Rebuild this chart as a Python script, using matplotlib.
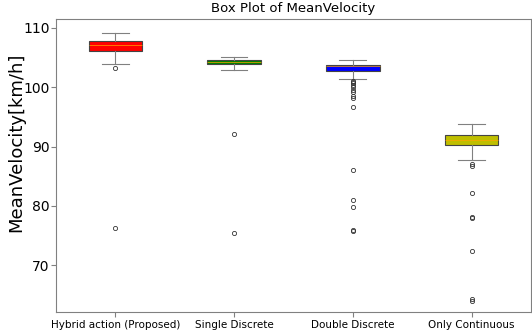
import matplotlib
matplotlib.use('Agg')
import matplotlib.pyplot as plt

labels = ['Hybrid action (Proposed)', 'Single Discrete', 'Double Discrete', 'Only Continuous']
colors = ['r', 'g', 'b', 'y']

# box statistics
whislo = [103.9, 102.9, 101.4, 87.8]
q1 = [106.1, 103.9, 102.7, 90.3]
med = [107.1, 104.3, 103.5, 91.1]
q3 = [107.8, 104.6, 103.8, 92.0]
whishi = [109.1, 105.1, 104.6, 93.8]

fliers_hybrid = [103.2, 76.2]
fliers_single = [92.1, 75.5]
fliers_double = [101.1, 100.9, 100.7, 100.4, 100.1, 99.6, 99.2, 98.6, 98.1,
                 96.6, 86.1, 80.9, 79.8, 75.9, 75.7]
fliers_cont = [87.1, 86.8, 82.2, 78.1, 77.9, 72.4, 64.3, 64.0]
fliers = [fliers_hybrid, fliers_single, fliers_double, fliers_cont]

stats = []
for i in range(len(labels)):
    stats.append({'label': labels[i], 'whislo': whislo[i], 'q1': q1[i],
                  'med': med[i], 'q3': q3[i], 'whishi': whishi[i],
                  'fliers': fliers[i]})

fig, ax = plt.subplots(figsize=(5.32, 3.33), dpi=100)
fig.subplots_adjust(left=0.105, right=0.998, top=0.943, bottom=0.063)

bp = ax.bxp(stats, patch_artist=True, widths=0.45,
            boxprops=dict(edgecolor='#444444', linewidth=0.8),
            whiskerprops=dict(color='gray', linewidth=0.8),
            capprops=dict(color='gray', linewidth=0.8),
            medianprops=dict(color='orange', linewidth=0.5),
            flierprops=dict(marker='o', markersize=3, markerfacecolor='none',
                            markeredgecolor='#333333', markeredgewidth=0.6))
for patch, c in zip(bp['boxes'], colors):
    patch.set_facecolor(c)

ax.set_ylim(62.1, 111.5)
ax.set_yticks([70, 80, 90, 100, 110])
ax.tick_params(axis='y', labelsize=10, color='gray', pad=1)
ax.tick_params(axis='x', labelsize=7.5, color='gray', pad=2)
for s in ax.spines.values():
    s.set_color('gray')
ax.set_ylabel('MeanVelocity[km/h]', fontsize=13)
ax.yaxis.set_label_coords(-0.064, 0.578)
ax.set_title('Box Plot of MeanVelocity', fontsize=9.5, pad=5)

plt.savefig('out.png')
